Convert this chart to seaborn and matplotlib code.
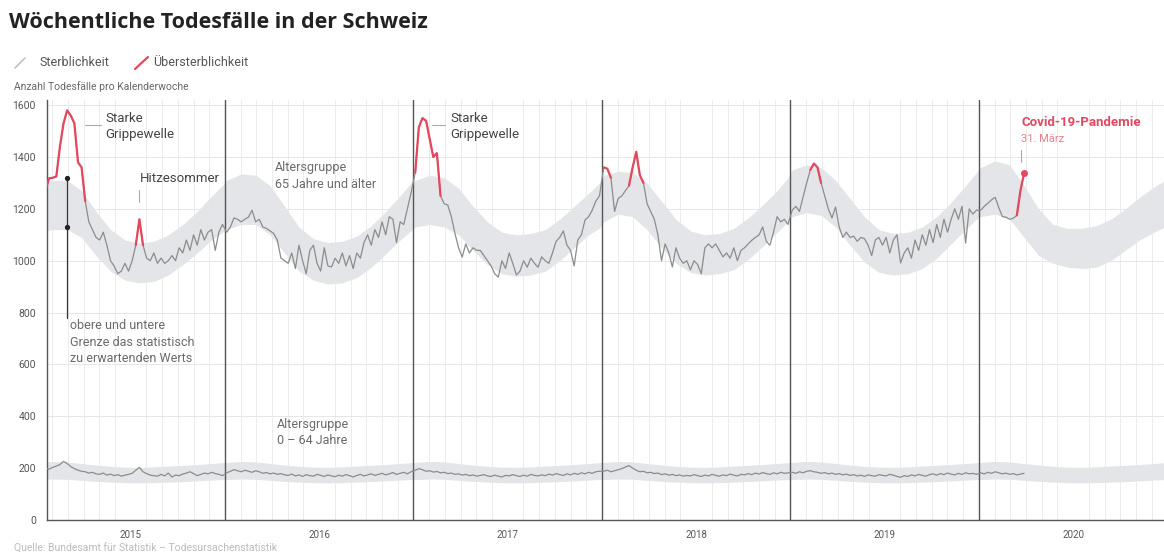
import numpy as np
import pandas as pd
import matplotlib.pyplot as plt
import seaborn as sns
from matplotlib.lines import Line2D

# weekly deaths, age group 65+ (2015 starts at week 3, 2020 ends at week 13)
old_2015 = [1272, 1318, 1320, 1325, 1440, 1530, 1580, 1560, 1530, 1380, 1360, 1230, 1150, 1120,
            1090, 1080, 1110, 1060, 1000, 980, 950, 960, 990, 960, 1000, 1060, 1160, 1060, 1010,
            1000, 1030, 990, 1010, 990, 1000, 1020, 1000, 1050, 1030, 1080, 1040, 1100, 1060,
            1120, 1080, 1110, 1120, 1040, 1110, 1140]
old_2016 = [1110, 1130, 1165, 1160, 1150, 1160, 1168, 1195, 1150, 1160, 1130, 1125, 1115, 1105,
            1080, 1010, 1000, 990, 1030, 970, 1060, 1000, 950, 1040, 1060, 990, 960, 1050, 980,
            976, 1010, 990, 1030, 980, 1020, 970, 1030, 1010, 1070, 1100, 1060, 1120, 1090, 1150,
            1100, 1170, 1160, 1070, 1150, 1140, 1200, 1260]
old_2017 = [1340, 1515, 1550, 1540, 1470, 1400, 1415, 1250, 1220, 1215, 1170, 1105, 1050, 1014,
            1065, 1030, 1050, 1040, 1040, 1020, 1000, 980, 950, 937, 1000, 970, 1030, 990, 945,
            960, 1000, 975, 1010, 990, 975, 1015, 1000, 990, 1030, 1075, 1090, 1115, 1060, 1040,
            980, 1080, 1100, 1157, 1170, 1195, 1230, 1250]
old_2018 = [1360, 1355, 1320, 1190, 1240, 1250, 1270, 1290, 1360, 1420, 1330, 1300, 1220, 1190,
            1160, 1100, 1000, 1065, 1030, 976, 1050, 1010, 990, 1000, 965, 1000, 985, 950, 1050,
            1065, 1050, 1065, 1040, 1015, 1030, 1010, 1050, 1000, 1040, 1050, 1065, 1079, 1090,
            1100, 1130, 1075, 1060, 1110, 1170, 1150, 1160, 1140]
old_2019 = [1195, 1210, 1190, 1245, 1300, 1350, 1375, 1360, 1300, 1250, 1200, 1165, 1207, 1130,
            1090, 1110, 1090, 1095, 1075, 1090, 1085, 1060, 1020, 1080, 1090, 1060, 1090, 1030,
            1080, 1100, 991, 1030, 1050, 1010, 1080, 1040, 1100, 1060, 1120, 1070, 1140, 1090,
            1160, 1110, 1160, 1200, 1160, 1210, 1068, 1200, 1180, 1195]
old_2020 = [1195, 1210, 1222, 1235, 1245, 1205, 1170, 1168, 1160, 1164, 1175, 1270, 1338]

# weekly deaths, age group 0-64
young_2015 = [200, 196, 203, 208, 214, 226, 218, 206, 198, 192, 188, 186, 181, 184, 178, 176,
              181, 173, 177, 171, 175, 169, 173, 176, 180, 192, 203, 186, 179, 173, 171, 169,
              176, 170, 181, 166, 173, 171, 177, 181, 186, 179, 171, 176, 181, 178, 184, 179,
              176, 171]
young_2016 = [182, 188, 194, 190, 186, 192, 188, 184, 190, 186, 180, 183, 178, 181, 176, 179,
              174, 172, 177, 170, 174, 168, 175, 171, 169, 176, 172, 168, 174, 170, 167, 173,
              169, 175, 171, 166, 172, 176, 170, 174, 178, 172, 176, 180, 174, 178, 183, 176,
              180, 184, 178, 186]
young_2017 = [192, 198, 194, 188, 190, 185, 187, 182, 184, 179, 181, 176, 178, 173, 176, 171,
              174, 169, 172, 175, 170, 168, 173, 169, 166, 172, 170, 175, 171, 168, 173, 169,
              176, 172, 170, 174, 171, 177, 173, 179, 175, 172, 178, 174, 180, 176, 182, 178,
              184, 180, 186, 188]
young_2018 = [188, 192, 186, 190, 194, 198, 204, 210, 200, 192, 186, 188, 182, 184, 179, 181,
              175, 178, 173, 176, 171, 174, 169, 172, 170, 175, 171, 168, 173, 170, 176, 172,
              169, 174, 171, 177, 173, 170, 176, 174, 179, 175, 181, 177, 183, 179, 176, 182,
              178, 184, 180, 182]
young_2019 = [184, 180, 186, 182, 188, 190, 186, 184, 180, 183, 178, 181, 176, 179, 174, 177,
              172, 175, 170, 173, 168, 174, 171, 169, 175, 172, 170, 176, 173, 168, 165, 171,
              168, 174, 170, 176, 172, 169, 175, 178, 173, 179, 175, 181, 177, 174, 180, 176,
              182, 178, 180, 176]
young_2020 = [182, 178, 184, 180, 186, 182, 178, 181, 176, 179, 174, 177, 180]

years = [2015, 2016, 2017, 2018, 2019, 2020]
first_week = {2015: 3}

# expected range (upper / lower limit), read every 4 weeks
band_weeks = [1, 5, 9, 13, 17, 21, 25, 29, 33, 37, 41, 45, 49, 52]
old_upper = {
    2015: [1300, 1310, 1310, 1270, 1190, 1120, 1080, 1068, 1075, 1100, 1140, 1190, 1250, 1290],
    2016: [1310, 1335, 1330, 1290, 1210, 1130, 1085, 1070, 1075, 1095, 1135, 1190, 1250, 1300],
    2017: [1310, 1330, 1320, 1280, 1210, 1150, 1110, 1100, 1105, 1120, 1160, 1210, 1260, 1300],
    2018: [1330, 1345, 1340, 1300, 1230, 1160, 1115, 1100, 1105, 1125, 1165, 1215, 1270, 1320],
    2019: [1350, 1370, 1360, 1310, 1240, 1170, 1120, 1105, 1110, 1130, 1170, 1225, 1290, 1340],
    2020: [1360, 1385, 1370, 1290, 1200, 1140, 1125, 1125, 1135, 1160, 1200, 1245, 1285, 1310],
}
old_lower = {
    2015: [1110, 1120, 1120, 1090, 1020, 960, 925, 915, 920, 945, 985, 1030, 1080, 1110],
    2016: [1120, 1140, 1140, 1100, 1030, 960, 925, 910, 915, 935, 975, 1025, 1080, 1115],
    2017: [1130, 1140, 1130, 1100, 1040, 985, 950, 940, 945, 960, 1000, 1050, 1100, 1125],
    2018: [1150, 1180, 1170, 1120, 1050, 990, 955, 945, 950, 965, 1005, 1055, 1110, 1150],
    2019: [1170, 1185, 1175, 1130, 1060, 995, 955, 945, 950, 970, 1010, 1065, 1120, 1160],
    2020: [1170, 1180, 1160, 1090, 1020, 990, 975, 970, 975, 1000, 1040, 1080, 1110, 1130],
}
young_upper = [222, 226, 224, 218, 212, 207, 204, 203, 205, 208, 211, 214, 218, 221]
young_lower = [156, 158, 157, 153, 149, 146, 144, 143, 144, 146, 148, 151, 154, 156]

# whisker example: upper and lower limit in week 9 of 2015
whisker = {"year": 2015, "week": 9, "hi": 1318, "lo": 1130}

# weeks with excess mortality (year, first week, last week)
excess = [(2015, 3, 14), (2015, 28, 30), (2017, 1, 8), (2018, 1, 3), (2018, 8, 12),
          (2019, 6, 9), (2020, 11, 13)]

old_series = dict(zip(years, [old_2015, old_2016, old_2017, old_2018, old_2019, old_2020]))
young_series = dict(zip(years, [young_2015, young_2016, young_2017, young_2018, young_2019, young_2020]))


def week_pos(year, week):
    return year + (week - 0.5) / 52.18


rows = []
for group, series in [("65+", old_series), ("0-64", young_series)]:
    for yr in years:
        w0 = first_week.get(yr, 1)
        for i, v in enumerate(series[yr]):
            rows.append({"group": group, "year": yr, "week": w0 + i, "deaths": v})
df = pd.DataFrame(rows)
df["t"] = week_pos(df["year"], df["week"])

band_rows = []
for yr in years:
    for i, w in enumerate(band_weeks):
        band_rows.append({"year": yr, "week": w, "old_hi": old_upper[yr][i], "old_lo": old_lower[yr][i],
                          "young_hi": young_upper[i], "young_lo": young_lower[i]})
band = pd.DataFrame(band_rows)
band["t"] = week_pos(band["year"], band["week"])

RED = "#e4485e"
GRAY = "#8c8c8c"
BAND = "#e3e5e9"
DARK = "#555555"

sns.set_style("white")
plt.rcParams["font.family"] = ["Roboto", "DejaVu Sans"]

W, H = 1164, 558
fig = plt.figure(figsize=(W / 100, H / 100), dpi=100)
ax = fig.add_axes([47 / W, 38 / H, 1117 / W, 420 / H])


def fpx(x, y):
    return x / W, 1 - y / H


ax.fill_between(band["t"], band["old_lo"], band["old_hi"], color=BAND, lw=0, zorder=1)
ax.fill_between(band["t"], band["young_lo"], band["young_hi"], color=BAND, lw=0, zorder=1)

sns.lineplot(data=df, x="t", y="deaths", hue="group", palette={"65+": GRAY, "0-64": GRAY},
             estimator=None, legend=False, lw=0.9, ax=ax, zorder=3)

old_df = df[df["group"] == "65+"]
for yr, w_a, w_b in excess:
    seg = old_df[(old_df["year"] == yr) & (old_df["week"] >= w_a) & (old_df["week"] <= w_b)]
    sns.lineplot(data=seg, x="t", y="deaths", color=RED, lw=1.6, estimator=None, ax=ax, zorder=4)

# covid point
last = old_df.iloc[-1]
ax.plot(last["t"], last["deaths"], "o", color=RED, ms=4, zorder=5)

# whisker showing the expected range
wt = week_pos(whisker["year"], whisker["week"])
ax.plot([wt, wt], [whisker["hi"], 779], color="#333333", lw=0.9, zorder=5)
ax.plot([wt, wt], [whisker["hi"], whisker["lo"]], "o", color="#222222", ms=2.8, zorder=6)

# axes styling (limits set after the ticks, otherwise set_xticks widens the view)
ax.set_yticks(range(0, 1601, 200))
ax.set_xticks([y + 0.5 for y in years])
ax.set_xticklabels([str(y) for y in years])
ax.set_xticks([y + m / 12 for y in years for m in range(12)], minor=True)
ax.set_xlim(2015.056, 2020.982)
ax.set_ylim(0, 1620)
ax.tick_params(axis="both", which="both", length=0, colors=DARK)
ax.tick_params(axis="y", labelsize=7.5, pad=8)
ax.tick_params(axis="x", labelsize=7, pad=7)
ax.set_xlabel("")
ax.set_ylabel("")
ax.grid(which="minor", axis="x", color="#ececec", lw=0.7)
ax.grid(which="major", axis="y", color="#e6e6e6", lw=0.7)
ax.grid(which="major", axis="x", visible=False)
ax.set_axisbelow(True)
for s in ["top", "right"]:
    ax.spines[s].set_visible(False)
for s in ["left", "bottom"]:
    ax.spines[s].set_color(DARK)
    ax.spines[s].set_linewidth(1)
for yr in years[1:]:
    ax.axvline(yr, color=DARK, lw=1, zorder=2)


# leader lines for annotations
def px_line(x0, y0, x1, y1, color="#aaaaaa", lw=0.8):
    fig.add_artist(Line2D([x0 / W, x1 / W], [1 - y0 / H, 1 - y1 / H], color=color, lw=lw))


px_line(85, 125, 101, 125)
px_line(432, 125, 445, 125)
px_line(139, 190, 139, 202)
px_line(1021, 150, 1021, 162, color="#ec8c98")

txt = dict(color="#444444", fontsize=9.5, va="top", ha="left", linespacing=1.3)
fig.text(*fpx(105, 112), "Starke\nGrippewelle", **txt)
fig.text(*fpx(450, 112), "Starke\nGrippewelle", **txt)
fig.text(*fpx(140, 178), "Hitzesommer", color="#444444", fontsize=9.5, va="center")
grey = dict(color="#6a6a6a", fontsize=9, va="top", ha="left", linespacing=1.35)
fig.text(*fpx(275, 161), "Altersgruppe\n65 Jahre und älter", **grey)
fig.text(*fpx(277, 418), "Altersgruppe\n0 – 64 Jahre", **grey)
fig.text(*fpx(70, 319), "obere und untere\nGrenze das statistisch\nzu erwartenden Werts", **grey)
fig.text(*fpx(1021, 122), "Covid-19-Pandemie", color=RED, fontsize=9.5, weight="bold", va="center")
fig.text(*fpx(1021, 139), "31. März", color="#ec7f8c", fontsize=8, va="center")

# title, legend, subtitle, source
fig.text(*fpx(9, 22), "Wöchentliche Todesfälle in der Schweiz", fontsize=15.5, weight="bold",
         color="#222222", va="center", family=["Open Sans", "DejaVu Sans"])
px_line(15, 68, 25, 58, color="#bbbbbb", lw=1.1)
px_line(135, 69, 148, 57, color=RED, lw=1.6)
fig.text(*fpx(40, 62), "Sterblichkeit", fontsize=9, color="#555555", va="center")
fig.text(*fpx(153, 62), "Übersterblichkeit", fontsize=9, color="#555555", va="center")
fig.text(*fpx(14, 87), "Anzahl Todesfälle pro Kalenderwoche", fontsize=7.5, color="#666666", va="center")
fig.text(*fpx(14, 549), "Quelle: Bundesamt für Statistik – Todesursachenstatistik", fontsize=7.5,
         color="#bbbbbb", va="center")

fig.savefig("out.png", dpi=100, facecolor="white")
